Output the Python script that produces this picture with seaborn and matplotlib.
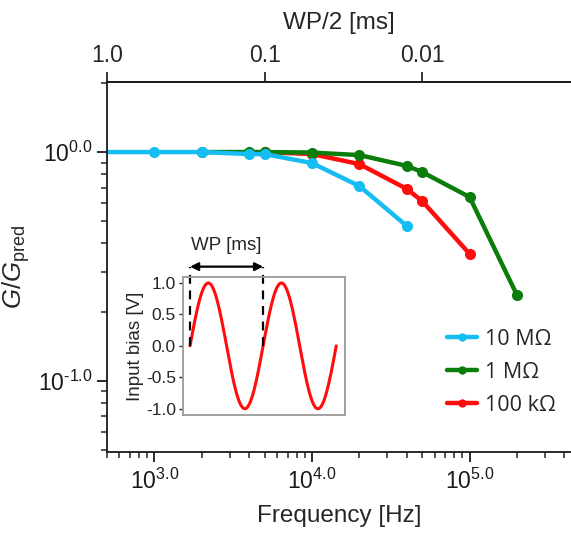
import numpy as np
import pandas as pd
import matplotlib
matplotlib.use("Agg")
import matplotlib.pyplot as plt
import seaborn as sns
from matplotlib.ticker import FixedLocator, FuncFormatter, NullLocator, LogLocator, NullFormatter
from matplotlib.lines import Line2D

# ---- data ----
freq_10M = [500, 1000, 2000, 4000, 5000, 10000, 20000, 40000]
g_10M = [1.0, 1.0, 1.0, 0.98, 0.98, 0.895, 0.71, 0.475]
freq_1M = [2000, 4000, 5000, 10000, 20000, 40000, 50000, 100000, 200000]
g_1M = [1.0, 1.0, 1.0, 0.995, 0.97, 0.87, 0.818, 0.636, 0.237]
freq_100k = [5000, 10000, 20000, 40000, 50000, 100000]
g_100k = [1.0, 0.98, 0.886, 0.69, 0.611, 0.359]

series_labels = ["10 M\u03a9", "1 M\u03a9", "100 k\u03a9"]
series_colors = ["#16bdf2", "#0a7d0a", "#ff0d0d"]

x_ticks = [1e3, 1e4, 1e5]
y_ticks = [1e-1, 1e0]
top_ticks = [1.0, 0.1, 0.01]
top_tick_labels = ["1.0", "0.1", "0.01"]

inset_yticks = [1.0, 0.5, 0.0, -0.5, -1.0]
sine_amplitude = 1.0
sine_periods = 2

sns.set_style("ticks")
plt.rcParams["font.family"] = ["Liberation Sans", "DejaVu Sans"]
plt.rcParams["mathtext.fontset"] = "custom"
plt.rcParams["mathtext.rm"] = "Liberation Sans"
plt.rcParams["mathtext.it"] = "Liberation Sans:italic"
plt.rcParams["mathtext.bf"] = "Liberation Sans:bold"
plt.rcParams["axes.unicode_minus"] = False

fig = plt.figure(figsize=(5.71, 5.33), dpi=100)
W, H = 571, 533
ax = fig.add_axes([107 / W, 1 - 452 / H, (571 - 107) / W, (452 - 82) / H])
ax.set_xscale("log")
ax.set_yscale("log")

df = pd.concat([
    pd.DataFrame({"f": freq_100k, "g": g_100k, "s": series_labels[2]}),
    pd.DataFrame({"f": freq_1M, "g": g_1M, "s": series_labels[1]}),
    pd.DataFrame({"f": freq_10M, "g": g_10M, "s": series_labels[0]}),
])

draw_order = [2, 1, 0]
for i in draw_order:
    sub = df[df["s"] == series_labels[i]]
    sns.lineplot(data=sub, x="f", y="g", ax=ax, color=series_colors[i], lw=3.2,
                 marker="o", markersize=8, markeredgewidth=0, legend=False,
                 estimator=None, sort=False)
# blue line begins outside the frame: hide its first marker
ax.lines[-1].set_markevery(slice(1, None))

ax.set_xlim(500, 4.4e5)
ax.set_ylim(10 ** -1.31, 10 ** 0.306)


def log_label(v, _):
    e = np.log10(v)
    s = "%.1f" % e
    if s.startswith("-"):
        return r"$10^{\text{%s}}$" % s
    return r"$10^{%s}$" % s


ax.xaxis.set_major_locator(FixedLocator(x_ticks))
ax.yaxis.set_major_locator(FixedLocator(y_ticks))
fmt = FuncFormatter(log_label)
ax.xaxis.set_major_formatter(fmt)
ax.yaxis.set_major_formatter(fmt)
ax.xaxis.set_minor_locator(LogLocator(base=10, subs=np.arange(2, 10), numticks=20))
ax.yaxis.set_minor_locator(LogLocator(base=10, subs=np.arange(2, 10), numticks=20))
ax.xaxis.set_minor_formatter(NullFormatter())
ax.yaxis.set_minor_formatter(NullFormatter())
ax.tick_params(which="major", direction="out", length=7, width=1.3, labelsize=16.5, colors="#1a1a1a")
ax.tick_params(axis="x", which="major", pad=5)
ax.tick_params(which="minor", direction="out", length=4, width=1.1)
for side in ["left", "bottom", "top"]:
    ax.spines[side].set_linewidth(1.3)
    ax.spines[side].set_color("#1a1a1a")
ax.spines["right"].set_visible(False)

ax.set_xlabel("Frequency [Hz]", fontsize=17.5, labelpad=8)
ax.set_ylabel(r"$G/G_{\mathrm{pred}}$", fontsize=18.5, labelpad=4)

secax = ax.secondary_xaxis("top", functions=(lambda f: 500.0 / np.maximum(f, 1e-12),
                                              lambda w: 500.0 / np.maximum(w, 1e-12)))
secax.set_xticks(top_ticks)
secax.set_xticklabels(top_tick_labels)
secax.xaxis.set_minor_locator(NullLocator())
secax.tick_params(which="major", direction="out", length=7, width=1.3, labelsize=16.5)
secax.spines["top"].set_linewidth(1.3)
secax.set_xlabel("WP/2 [ms]", fontsize=17.5, labelpad=11)

handles = [Line2D([], [], color=series_colors[i], lw=3.2, marker="o", markersize=6,
                  markeredgewidth=0) for i in range(3)]
ax.legend(handles, series_labels, loc="upper left",
          bbox_to_anchor=((447 - 107) / (571 - 107), 1 - (329 - 82) / (452 - 82)),
          frameon=False, handlelength=1.4, handletextpad=0.35, labelspacing=0.55,
          prop={"family": ["Open Sans", "DejaVu Sans"], "size": 15.5}, borderaxespad=0,
          borderpad=0)

# ---- inset ----
axin = fig.add_axes([182.7 / W, 1 - 415 / H, (345 - 182.7) / W, (415 - 276.7) / H])
t = np.linspace(0, sine_periods, 400)
v = sine_amplitude * np.sin(2 * np.pi * t)
sns.lineplot(x=t, y=v, ax=axin, color="#ff0d0d", lw=2.2, legend=False)
axin.set_xlim(-0.1, 2.12)
axin.set_ylim(-1.1, 1.1)
axin.set_xticks([])
axin.set_yticks(inset_yticks)
axin.set_yticklabels(["%.1f" % y for y in inset_yticks])
axin.tick_params(axis="y", direction="out", length=3, width=1, labelsize=12.5, pad=2)
for s in axin.spines.values():
    s.set_color("#9a9a9a")
    s.set_linewidth(1.3)
axin.set_ylabel("Input bias [V]", fontsize=13.5, labelpad=1)
axin.set_facecolor("white")

ytop = 1.26
for xv in [0, 1]:
    axin.plot([xv, xv], [0, ytop], ls=(0, (4, 3)), color="black", lw=1.6, clip_on=False)
axin.annotate("", xy=(0, ytop), xytext=(1, ytop), xycoords="data",
              arrowprops=dict(arrowstyle="<|-|>", color="black", lw=1.6,
                              mutation_scale=12, shrinkA=0, shrinkB=0),
              annotation_clip=False)
axin.text(0.5, 1.6, "WP [ms]", ha="center", va="center", fontsize=13.5)

fig.savefig("out.png", dpi=100, facecolor="white")
